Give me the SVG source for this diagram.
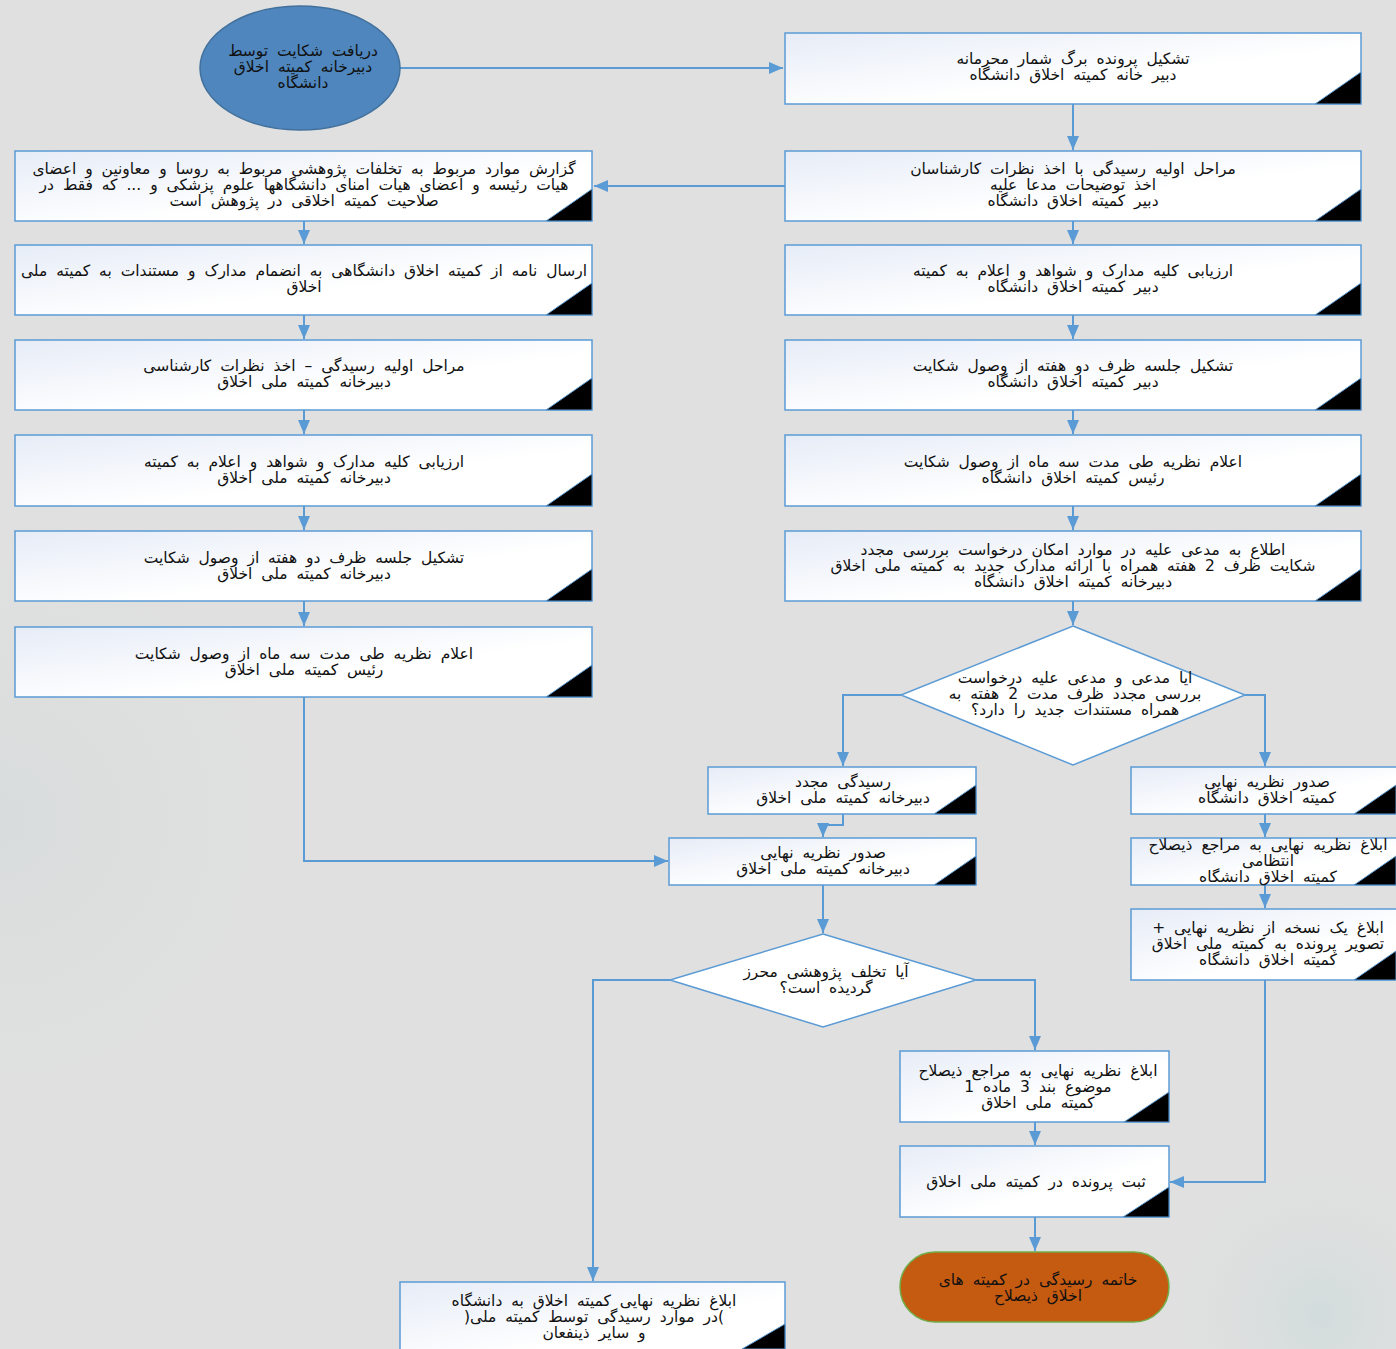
<svg xmlns="http://www.w3.org/2000/svg" width="1396" height="1349" viewBox="0 0 1396 1349">
<defs>
<linearGradient id="boxg" x1="0" y1="0" x2="1" y2="1">
<stop offset="0" stop-color="#e6ecf7"/>
<stop offset="0.6" stop-color="#ffffff"/>
<stop offset="1" stop-color="#ffffff"/>
</linearGradient>
<radialGradient id="bg1" cx="0" cy="820" r="360" gradientUnits="userSpaceOnUse">
<stop offset="0" stop-color="#d8dcdc"/>
<stop offset="1" stop-color="#e0e0e0" stop-opacity="0"/>
</radialGradient>
<radialGradient id="bg2" cx="1320" cy="1315" r="170" gradientUnits="userSpaceOnUse">
<stop offset="0" stop-color="#d2dcdc"/>
<stop offset="1" stop-color="#e0e0e0" stop-opacity="0"/>
</radialGradient>
<marker id="ah" viewBox="0 0 14 12" refX="14" refY="6" markerWidth="14" markerHeight="12" markerUnits="userSpaceOnUse" orient="auto">
<path d="M0,0 L14,6 L0,12 z" fill="#5b9bd5"/>
</marker>
</defs>
<style>
.box{fill:url(#boxg);stroke:#5b9bd5;stroke-width:1.5}
.tri{fill:#000;stroke:#5b9bd5;stroke-width:1}
.dia{fill:#fff;stroke:#5b9bd5;stroke-width:1.5}
.t{font-family:"DejaVu Sans","Noto Sans",sans-serif;font-size:15.5px;word-spacing:4px;fill:#111;text-anchor:middle;direction:rtl}
.c{fill:none;stroke:#5b9bd5;stroke-width:2;marker-end:url(#ah)}
</style>
<rect x="0" y="0" width="1396" height="1349" fill="#e0e0e0"/>
<rect x="0" y="0" width="1396" height="1349" fill="url(#bg1)"/>
<rect x="0" y="0" width="1396" height="1349" fill="url(#bg2)"/>

<g id="connectors">
<path class="c" d="M400,68 H783"/>
<path class="c" d="M1073,104 V150"/>
<path class="c" d="M785,186 H594"/>
<path class="c" d="M1073,221 V244"/>
<path class="c" d="M1073,315 V339"/>
<path class="c" d="M1073,410 V434"/>
<path class="c" d="M1073,506 V530"/>
<path class="c" d="M1073,601 V625"/>
<path class="c" d="M304,221 V244"/>
<path class="c" d="M304,315 V339"/>
<path class="c" d="M304,410 V434"/>
<path class="c" d="M304,506 V530"/>
<path class="c" d="M304,601 V626"/>
<path class="c" d="M304,697 V861 H668"/>
<path class="c" d="M901,695 H843 V766"/>
<path class="c" d="M1245,695 H1265 V766"/>
<path class="c" d="M843,814 V825 H823 V837"/>
<path class="c" d="M1265,814 V837"/>
<path class="c" d="M1265,885 V908"/>
<path class="c" d="M1265,980 V1182 H1170"/>
<path class="c" d="M823,885 V933"/>
<path class="c" d="M670,980 H593 V1281"/>
<path class="c" d="M976,980 H1035 V1050"/>
<path class="c" d="M1035,1122 V1145"/>
<path class="c" d="M1035,1217 V1251"/>
</g>

<g id="n_start">
<ellipse cx="300" cy="68" rx="100" ry="62" fill="#4e86bd" stroke="#41719c" stroke-width="1.5"/>
<text class="t" x="303" y="56">دریافت شکایت توسط</text>
<text class="t" x="303" y="72">دبیرخانه کمیته اخلاق</text>
<text class="t" x="303" y="88">دانشگاه</text>
</g>

<g id="n_r1">
<rect class="box" x="785" y="33" width="576" height="71"/>
<path class="tri" d="M1315,104 L1361,72 L1361,104 z"/>
<text class="t" x="1073" y="64">تشکیل پرونده برگ شمار محرمانه</text>
<text class="t" x="1073" y="80">دبیر خانه کمیته اخلاق دانشگاه</text>
</g>

<g id="n_r2">
<rect class="box" x="785" y="151" width="576" height="70"/>
<path class="tri" d="M1315,221 L1361,189 L1361,221 z"/>
<text class="t" x="1073" y="174">مراحل اولیه رسیدگی با اخذ نظرات کارشناسان</text>
<text class="t" x="1073" y="190">اخذ توضیحات مدعا علیه</text>
<text class="t" x="1073" y="206">دبیر کمیته اخلاق دانشگاه</text>
</g>

<g id="n_l1">
<rect class="box" x="15" y="151" width="577" height="70"/>
<path class="tri" d="M546,221 L592,189 L592,221 z"/>
<text class="t" x="304" y="174">گزارش موارد مربوط به تخلفات پژوهشی مربوط به روسا و معاونین و اعضای</text>
<text class="t" x="304" y="190">هیات رئیسه و اعضای هیات امنای دانشگاهها علوم پزشکی و ... که فقط در</text>
<text class="t" x="304" y="206">صلاحیت کمیته اخلاقی در پژوهش است</text>
</g>

<g id="n_r3">
<rect class="box" x="785" y="245" width="576" height="70"/>
<path class="tri" d="M1315,315 L1361,283 L1361,315 z"/>
<text class="t" x="1073" y="276">ارزیابی کلیه مدارک و شواهد و اعلام به کمیته</text>
<text class="t" x="1073" y="292">دبیر کمیته اخلاق دانشگاه</text>
</g>

<g id="n_l2">
<rect class="box" x="15" y="245" width="577" height="70"/>
<path class="tri" d="M546,315 L592,283 L592,315 z"/>
<text class="t" x="304" y="276">ارسال نامه از کمیته اخلاق دانشگاهی به انضمام مدارک و مستندات به کمیته ملی</text>
<text class="t" x="304" y="292">اخلاق</text>
</g>

<g id="n_r4">
<rect class="box" x="785" y="340" width="576" height="70"/>
<path class="tri" d="M1315,410 L1361,378 L1361,410 z"/>
<text class="t" x="1073" y="371">تشکیل جلسه ظرف دو هفته از وصول شکایت</text>
<text class="t" x="1073" y="387">دبیر کمیته اخلاق دانشگاه</text>
</g>

<g id="n_l3">
<rect class="box" x="15" y="340" width="577" height="70"/>
<path class="tri" d="M546,410 L592,378 L592,410 z"/>
<text class="t" x="304" y="371">مراحل اولیه رسیدگی – اخذ نظرات کارشناسی</text>
<text class="t" x="304" y="387">دبیرخانه کمیته ملی اخلاق</text>
</g>

<g id="n_r5">
<rect class="box" x="785" y="435" width="576" height="71"/>
<path class="tri" d="M1315,506 L1361,474 L1361,506 z"/>
<text class="t" x="1073" y="467">اعلام نظریه طی مدت سه ماه از وصول شکایت</text>
<text class="t" x="1073" y="483">رئیس کمیته اخلاق دانشگاه</text>
</g>

<g id="n_l4">
<rect class="box" x="15" y="435" width="577" height="71"/>
<path class="tri" d="M546,506 L592,474 L592,506 z"/>
<text class="t" x="304" y="467">ارزیابی کلیه مدارک و شواهد و اعلام به کمیته</text>
<text class="t" x="304" y="483">دبیرخانه کمیته ملی اخلاق</text>
</g>

<g id="n_r6">
<rect class="box" x="785" y="531" width="576" height="70"/>
<path class="tri" d="M1315,601 L1361,569 L1361,601 z"/>
<text class="t" x="1073" y="555">اطلاع به مدعی علیه در موارد امکان درخواست بررسی مجدد</text>
<text class="t" x="1073" y="571">شکایت ظرف 2 هفته همراه با ارائه مدارک جدید به کمیته ملی اخلاق</text>
<text class="t" x="1073" y="587">دبیرخانه کمیته اخلاق دانشگاه</text>
</g>

<g id="n_l5">
<rect class="box" x="15" y="531" width="577" height="70"/>
<path class="tri" d="M546,601 L592,569 L592,601 z"/>
<text class="t" x="304" y="563">تشکیل جلسه ظرف دو هفته از وصول شکایت</text>
<text class="t" x="304" y="579">دبیرخانه کمیته ملی اخلاق</text>
</g>

<g id="n_l6">
<rect class="box" x="15" y="627" width="577" height="70"/>
<path class="tri" d="M546,697 L592,665 L592,697 z"/>
<text class="t" x="304" y="659">اعلام نظریه طی مدت سه ماه از وصول شکایت</text>
<text class="t" x="304" y="675">رئیس کمیته ملی اخلاق</text>
</g>

<g id="n_d1">
<path class="dia" d="M1073,626 L1245,695 L1073,765 L901,695 z"/>
<text class="t" x="1075" y="683">ایا مدعی و مدعی علیه درخواست</text>
<text class="t" x="1075" y="699">بررسی مجدد ظرف مدت 2 هفته به</text>
<text class="t" x="1075" y="715">همراه مستندات جدید را دارد؟</text>
</g>

<g id="n_review">
<rect class="box" x="708" y="767" width="268" height="47"/>
<path class="tri" d="M934,814 L976,785 L976,814 z"/>
<text class="t" x="843" y="787">رسیدگی مجدد</text>
<text class="t" x="843" y="803">دبیرخانه کمیته ملی اخلاق</text>
</g>

<g id="n_final_uni">
<rect class="box" x="1131" y="767" width="280" height="47"/>
<path class="tri" d="M1354,814 L1396,785 L1396,814 z"/>
<text class="t" x="1267" y="787">صدور نظریه نهایی</text>
<text class="t" x="1267" y="803">کمیته اخلاق دانشگاه</text>
</g>

<g id="n_final_nat">
<rect class="box" x="669" y="838" width="307" height="47"/>
<path class="tri" d="M934,885 L976,856 L976,885 z"/>
<text class="t" x="823" y="858">صدور نظریه نهایی</text>
<text class="t" x="823" y="874">دبیرخانه کمیته ملی اخلاق</text>
</g>

<g id="n_notify_uni">
<rect class="box" x="1131" y="838" width="280" height="47"/>
<path class="tri" d="M1354,885 L1396,856 L1396,885 z"/>
<text class="t" x="1268" y="850">ابلاغ نظریه نهایی به مراجع ذیصلاح</text>
<text class="t" x="1268" y="866">انتظامی</text>
<text class="t" x="1268" y="882">کمیته اخلاق دانشگاه</text>
</g>

<g id="n_copy">
<rect class="box" x="1131" y="909" width="280" height="71"/>
<path class="tri" d="M1354,980 L1396,951 L1396,980 z"/>
<text class="t" x="1268" y="933">ابلاغ یک نسخه از نظریه نهایی +</text>
<text class="t" x="1268" y="949">تصویر پرونده به کمیته ملی اخلاق</text>
<text class="t" x="1268" y="965">کمیته اخلاق دانشگاه</text>
</g>

<g id="n_d2">
<path class="dia" d="M823,934 L976,980 L823,1027 L670,980 z"/>
<text class="t" x="826" y="977">آیا تخلف پژوهشی محرز</text>
<text class="t" x="826" y="993">گردیده است؟</text>
</g>

<g id="n_notify_nat">
<rect class="box" x="900" y="1051" width="269" height="71"/>
<path class="tri" d="M1124,1122 L1169,1092 L1169,1122 z"/>
<text class="t" x="1038" y="1076">ابلاغ نظریه نهایی به مراجع ذیصلاح</text>
<text class="t" x="1038" y="1092">موضوع بند 3 ماده 1</text>
<text class="t" x="1038" y="1108">کمیته ملی اخلاق</text>
</g>

<g id="n_register">
<rect class="box" x="900" y="1146" width="269" height="71"/>
<path class="tri" d="M1123,1217 L1169,1187 L1169,1217 z"/>
<text class="t" x="1036" y="1187">ثبت پرونده در کمیته ملی اخلاق</text>
</g>

<g id="n_end">
<rect x="900" y="1252" width="269" height="70" rx="35" ry="35" fill="#c55a11" stroke="#70ad47" stroke-width="1.5"/>
<text class="t" x="1038" y="1285">خاتمه رسیدگی در کمیته های</text>
<text class="t" x="1038" y="1301">اخلاق ذیصلاح</text>
</g>

<g id="n_notify_univ">
<rect class="box" x="400" y="1282" width="385" height="80"/>
<path class="tri" d="M742,1349 L785,1324 L785,1349 z"/>
<text class="t" x="594" y="1306">ابلاغ نظریه نهایی کمیته اخلاق به دانشگاه</text>
<text class="t" x="594" y="1322">)در موارد رسیدگی توسط کمیته ملی(</text>
<text class="t" x="594" y="1338">و سایر ذینفعان</text>
</g>
</svg>
